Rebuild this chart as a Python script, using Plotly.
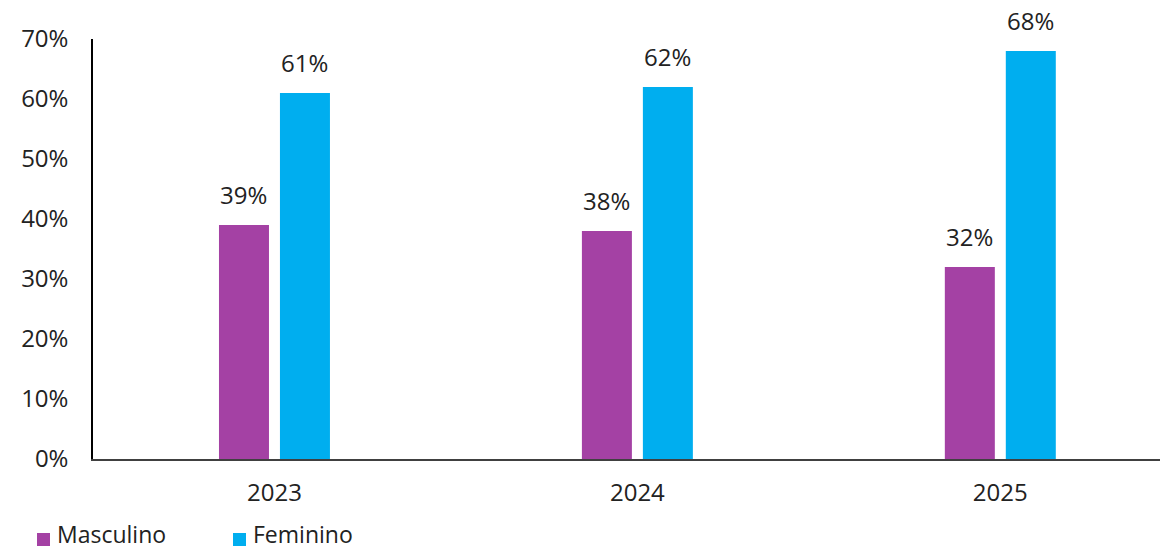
import plotly.graph_objects as go

years = ["2023", "2024", "2025"]
masculino = [39, 38, 32]
feminino = [61, 62, 68]
y_ticks = [0, 10, 20, 30, 40, 50, 60, 70]
y_tick_labels = [f"{v}%" for v in y_ticks]
series_names = ["Masculino", "Feminino"]

PURPLE = "#A441A4"
BLUE = "#00AEEF"
FONT = "Open Sans, Noto Sans, sans-serif"
TEXT = "#222222"
SIZE = 24

W, H = 1163, 551
ML, MR, MT, MB = 93, 3, 39, 92
PW, PH = W - ML - MR, H - MT - MB


def px_to_paper(px, py):
    return (px - ML) / PW, (H - MB - py) / PH


fig = go.Figure()
fig.add_bar(name=series_names[0], x=years, y=masculino, marker_color=PURPLE,
            marker_line_width=0)
fig.add_bar(name=series_names[1], x=years, y=feminino, marker_color=BLUE,
            marker_line_width=0)

# value labels above each bar
offsets = {0: -0.5, 1: 0.5}
for i, series in enumerate([masculino, feminino]):
    for k, v in enumerate(series):
        fig.add_annotation(
            x=k + offsets[i] * 0.168, y=v, xref="x", yref="y",
            text=f"{v}%", showarrow=False, yanchor="bottom", yshift=12,
            font=dict(family=FONT, size=SIZE, color=TEXT),
        )

# legend drawn below the chart: swatch + label per series
legend_items = [(series_names[0], PURPLE, 37), (series_names[1], BLUE, 233)]
for name, color, sx in legend_items:
    x0, y0 = px_to_paper(sx, 546)
    x1, y1 = px_to_paper(sx + 13, 533)
    fig.add_shape(type="rect", xref="paper", yref="paper",
                  x0=x0, x1=x1, y0=y0, y1=y1,
                  fillcolor=color, line_width=0)
    tx, ty = px_to_paper(sx + 19, 551)
    fig.add_annotation(x=tx, y=ty, xref="paper", yref="paper",
                       text=name, showarrow=False, xanchor="left",
                       yanchor="bottom", borderpad=0,
                       font=dict(family=FONT, size=23, color=TEXT))

fig.update_layout(
    width=W, height=H,
    margin=dict(l=ML, r=MR, t=MT, b=MB),
    paper_bgcolor="white", plot_bgcolor="white",
    barmode="group", bargap=0.664, bargroupgap=0.18,
    font=dict(family=FONT, size=SIZE, color=TEXT),
    showlegend=False,
)
fig.update_xaxes(
    type="category", range=[-0.5, 2.44],
    showline=True, linecolor="#404040", linewidth=2,
    showgrid=False, ticks="", ticklabelstandoff=11,
    tickfont=dict(family=FONT, size=SIZE, color=TEXT),
)
fig.update_yaxes(
    range=[0, 70], tickvals=y_ticks, ticktext=y_tick_labels,
    showline=True, linecolor="#000000", linewidth=1.5,
    showgrid=False, zeroline=False, ticks="", ticklabelstandoff=18,
    tickfont=dict(family=FONT, size=SIZE, color=TEXT),
)

fig.write_html("out.html")
